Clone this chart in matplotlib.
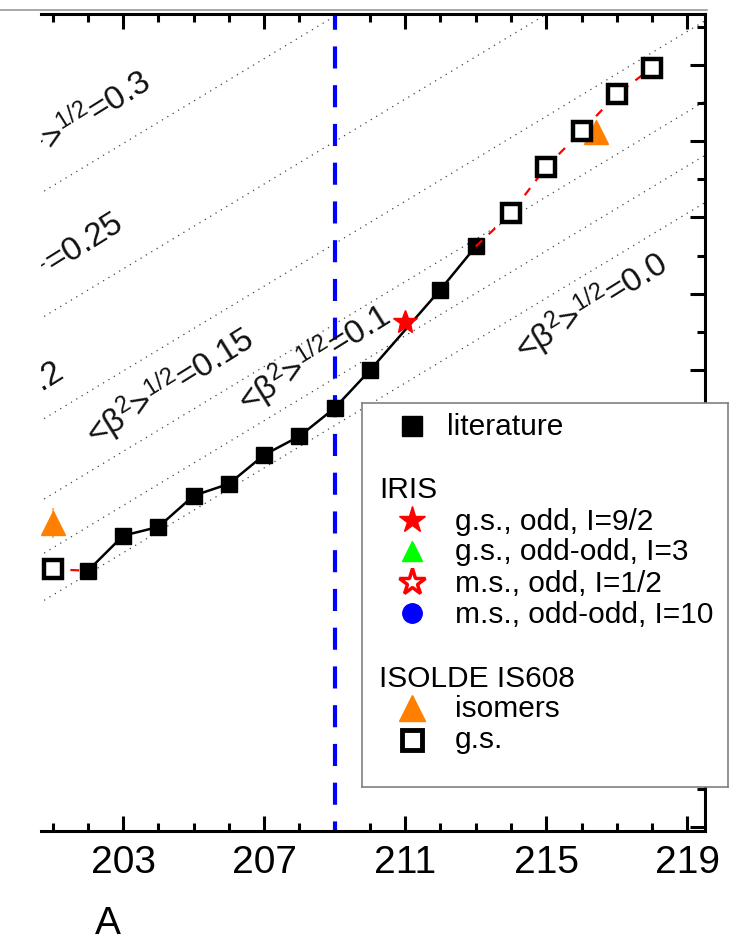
import numpy as np
import matplotlib
matplotlib.use("Agg")
import matplotlib.pyplot as plt
from matplotlib.ticker import MultipleLocator
from matplotlib.lines import Line2D

plt.rcParams['font.family'] = ['Liberation Sans', 'DejaVu Sans']
plt.rcParams['mathtext.fontset'] = 'custom'
plt.rcParams['mathtext.rm'] = 'Liberation Sans'
plt.rcParams['mathtext.it'] = 'Liberation Sans'
plt.rcParams['mathtext.bf'] = 'Liberation Sans:bold'
plt.rcParams['mathtext.default'] = 'regular'

# ---- data: changes in mean-square charge radius (fm^2) vs mass number ----
lit_A = [202, 203, 204, 205, 206, 207, 208, 209, 210, 212, 213]
lit_dr2 = [-0.427, -0.335, -0.312, -0.230, -0.199, -0.123, -0.074, 0.000, 0.099, 0.311, 0.424]

iris_A = [211]
iris_dr2 = [0.226]

is608_gs_A = [201, 214, 215, 216, 217, 218]
is608_gs_dr2 = [-0.423, 0.511, 0.633, 0.726, 0.823, 0.893]

is608_iso_A = [201, 216.4]
is608_iso_dr2 = [-0.302, 0.724]
is608_iso_err = [0.04, 0.01]

N126_A = 209

# iso-deformation lines: value at A=200 and A=220
beta_labels = ['0.3', '0.25', '0.2', '0.15', '0.1', '0.0']
iso_A = [200, 220]
iso_lines = [
    [0.527, 1.641],
    [0.198, 1.312],
    [-0.070, 1.044],
    [-0.281, 0.833],
    [-0.423, 0.691],
    [-0.547, 0.567],
]

W, H = 744, 942
fig = plt.figure(figsize=(W / 100, H / 100), dpi=100)
ax = fig.add_axes([41 / W, 1 - 831 / H, (705.3 - 41) / W, (831 - 14) / H])

# dotted iso-deformation lines
for vals in iso_lines:
    ax.plot(iso_A, vals, color='#444444', lw=0.9, ls=(0, (1, 4)), zorder=1)

# N = 126 marker line
ax.axvline(N126_A, color='#0000FF', lw=3.0, ls=(3, (5.3, 4.0)), zorder=2)

# literature values
ax.plot(lit_A, lit_dr2, color='black', lw=1.8, marker='s', ms=11, mew=1,
        mfc='black', mec='black', zorder=4)

# IS608 g.s. trend (red dashed), joined to neighbouring literature points
lit_map = dict(zip(lit_A, lit_dr2))
trend_A = [is608_gs_A[0], 202, np.nan, 213] + is608_gs_A[1:]
trend_y = [is608_gs_dr2[0], lit_map[202], np.nan, lit_map[213]] + is608_gs_dr2[1:]
ax.plot(trend_A, trend_y, color='#FF0000', lw=1.6, ls=(0, (4, 4)), zorder=5)

# isomers
ax.errorbar(is608_iso_A, is608_iso_dr2, yerr=is608_iso_err, fmt='^', ms=17,
            color='#FF8000', mec='#FF8000', ecolor='#FFB070', elinewidth=1.5,
            zorder=5)

# IS608 ground states
ax.plot(is608_gs_A, is608_gs_dr2, ls='none', marker='s', ms=12.5, mew=3.2,
        mfc='white', mec='black', zorder=6)

# IRIS ground state
ax.plot(iris_A, iris_dr2, ls='none', marker='*', ms=18, color='#FF0000',
        mec='#FF0000', zorder=7)

# iso-deformation labels (clipped by the panel edge)
lab_kw = dict(fontsize=24, rotation=32, rotation_mode='anchor', va='baseline',
              color='#111111', zorder=3, clip_on=True)
lab = lambda b: '<β$^{2}$>$^{1/2}$=' + b
ax.text(203.85, 0.840, lab(beta_labels[0]), ha='right', **lab_kw)
ax.text(203.08, 0.470, lab(beta_labels[1]), ha='right', **lab_kw)
ax.text(201.38, 0.078, lab(beta_labels[2]), ha='right', **lab_kw)
ax.text(202.20, -0.101, lab(beta_labels[3]), ha='left', **lab_kw)
ax.text(206.51, -0.015, lab(beta_labels[4]), ha='left', **lab_kw)
ax.text(214.37, 0.122, lab(beta_labels[5]), ha='left', **lab_kw)

# axes ranges, ticks, spines
ax.set_xlim(200.67, 219.51)
ax.set_ylim(-1.110, 1.034)
ax.xaxis.set_major_locator(MultipleLocator(4, offset=3))
ax.xaxis.set_minor_locator(MultipleLocator(1))
ax.yaxis.set_major_locator(MultipleLocator(0.2, offset=0.1))
ax.yaxis.set_minor_locator(MultipleLocator(0.1))
ax.tick_params(which='both', direction='in', width=2.2, colors='black',
               top=True, right=True, left=False, labelleft=False,
               labelright=False)
ax.tick_params(which='major', length=10.5)
ax.tick_params(which='minor', length=5.5)
ax.tick_params(axis='x', labelsize=28, pad=10)
ax.spines['left'].set_visible(False)
for s in ('top', 'bottom', 'right'):
    ax.spines[s].set_linewidth(2.2)

fig.text(108 / W, 1 - 924 / H, 'A', fontsize=28, ha='center', va='center')

# page edge line above the panel
fig.add_artist(Line2D([0, 707 / W], [1 - 10 / H, 1 - 10 / H], color='#9a9a9a',
                      lw=1.2, transform=fig.transFigure))

# ---- legend panel ----
lx0, ly0, lx1, ly1 = 362, 403, 728, 787
lax = fig.add_axes([lx0 / W, 1 - ly1 / H, (lx1 - lx0) / W, (ly1 - ly0) / H],
                   zorder=20)
lax.set_xlim(0, lx1 - lx0)
lax.set_ylim(ly1 - ly0, 0)
lax.set_xticks([])
lax.set_yticks([])
for s in lax.spines.values():
    s.set_color('#808080')
    s.set_linewidth(1.2)

fs = 21.5
mx = 50
entries = [
    # (marker y, text baseline y, text x, label, marker style)
    (23, 32, 85, 'literature', dict(marker='s', ms=14, color='black')),
    (117, 127, 93, 'g.s., odd, I=9/2', dict(marker='*', ms=20, color='#FF0000')),
    (148, 157, 93, 'g.s., odd-odd, I=3', dict(marker='^', ms=14, color='#00FF00')),
    (179, 189, 93, 'm.s., odd, I=1/2', dict(marker='*', ms=20, mfc='white',
                                            mec='#FF0000', mew=2.5)),
    (210, 220, 93, 'm.s., odd-odd, I=10', dict(marker='o', ms=14, color='#0000FF')),
    (305, 314, 93, 'isomers', dict(marker='^', ms=19, color='#FF8000')),
    (337, 345, 93, 'g.s.', dict(marker='s', ms=14, mfc='white', mec='black',
                                mew=3.5)),
]
for my, ty, tx, text, mk in entries:
    lax.plot([mx], [my], ls='none', **mk)
    lax.text(tx, ty, text, fontsize=fs, va='baseline', ha='left')
lax.text(17, 95, 'IRIS', fontsize=fs, va='baseline', ha='left')
lax.text(17, 284, 'ISOLDE IS608', fontsize=fs, va='baseline', ha='left')

fig.savefig('out.png', dpi=100)
